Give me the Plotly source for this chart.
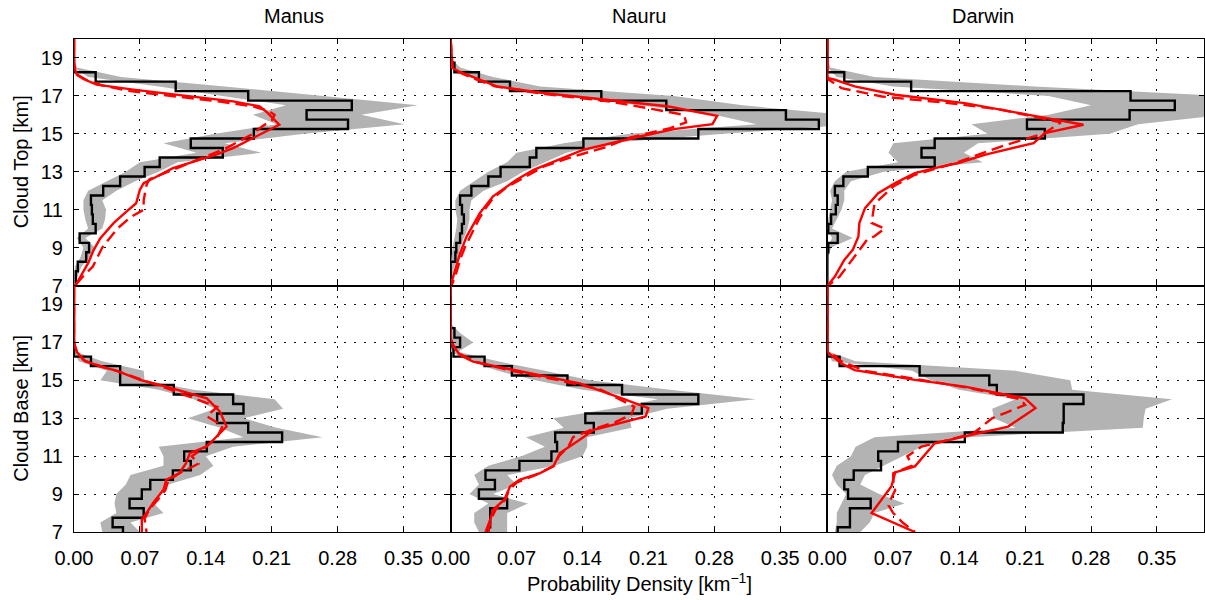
import plotly.graph_objects as go
from plotly.subplots import make_subplots

# ---------------- data ----------------
SITES = ["Manus", "Nauru", "Darwin"]
ROW_LABELS = ["Cloud Top [km]", "Cloud Base [km]"]
X_LABEL = "Probability Density [km<sup>\u22121</sup>]"
X_TICKS = [0.0, 0.07, 0.14, 0.21, 0.28, 0.35]
Y_TICKS = [7, 9, 11, 13, 15, 17, 19]

# bin centres (km), 0.5 km bins
HEIGHTS = [7.0, 7.5, 8.0, 8.5, 9.0, 9.5, 10.0, 10.5, 11.0, 11.5, 12.0, 12.5, 13.0,
           13.5, 14.0, 14.5, 15.0, 15.5, 16.0, 16.5, 17.0, 17.5, 18.0, 18.5, 19.0, 19.5, 20.0]

# ---- observed histograms (black) ----
manus_top_hist = [0.002, 0.002, 0.004, 0.013, 0.016, 0.006, 0.023, 0.020, 0.019, 0.018, 0.031, 0.049, 0.075,
                  0.091, 0.158, 0.124, 0.191, 0.291, 0.247, 0.295, 0.185, 0.108, 0.023, 0.0, 0.0, 0.0, 0.0]
nauru_top_hist = [0.0, 0.0, 0.0, 0.005, 0.006, 0.010, 0.012, 0.014, 0.012, 0.010, 0.022, 0.040, 0.053,
                  0.084, 0.091, 0.141, 0.263, 0.391, 0.356, 0.229, 0.160, 0.063, 0.030, 0.004, 0.0, 0.0, 0.0]
darwin_top_hist = [0.0, 0.0, 0.0, 0.0, 0.001, 0.011, 0.001, 0.004, 0.009, 0.011, 0.008, 0.017, 0.043,
                   0.114, 0.100, 0.114, 0.231, 0.212, 0.321, 0.369, 0.322, 0.089, 0.018, 0.0, 0.0, 0.0, 0.0]
manus_base_hist = [0.052, 0.041, 0.074, 0.059, 0.072, 0.081, 0.105, 0.124, 0.117, 0.141, 0.221, 0.185, 0.152,
                   0.180, 0.169, 0.106, 0.049, 0.049, 0.018, 0.0, 0.0, 0.0, 0.0, 0.0, 0.0, 0.0, 0.0]
nauru_base_hist = [0.040, 0.042, 0.042, 0.060, 0.030, 0.047, 0.037, 0.073, 0.107, 0.113, 0.111, 0.152, 0.143,
                   0.203, 0.263, 0.182, 0.124, 0.065, 0.036, 0.003, 0.010, 0.004, 0.0, 0.0, 0.0, 0.0, 0.0]
darwin_base_hist = [0.011, 0.024, 0.024, 0.046, 0.022, 0.018, 0.028, 0.057, 0.054, 0.075, 0.146, 0.250, 0.251,
                    0.251, 0.272, 0.180, 0.172, 0.098, 0.013, 0.0, 0.0, 0.0, 0.0, 0.0, 0.0, 0.0, 0.0]

# ---- uncertainty band (grey): lower / upper ----
manus_top_lo = [0.0, 0.0, 0.001, 0.007, 0.010, 0.003, 0.015, 0.012, 0.010, 0.010, 0.015, 0.035, 0.055,
                0.070, 0.130, 0.095, 0.150, 0.215, 0.190, 0.225, 0.160, 0.090, 0.015, 0.0, 0.0, 0.0, 0.0]
manus_top_hi = [0.0, 0.004, 0.008, 0.017, 0.022, 0.012, 0.030, 0.033, 0.034, 0.030, 0.045, 0.065, 0.090,
                0.110, 0.199, 0.160, 0.245, 0.351, 0.305, 0.365, 0.260, 0.160, 0.050, 0.003, 0.0, 0.0, 0.0]
nauru_top_lo = [0.0, 0.0, 0.0, 0.001, 0.002, 0.004, 0.006, 0.007, 0.005, 0.005, 0.010, 0.025, 0.040,
                0.060, 0.070, 0.120, 0.190, 0.325, 0.280, 0.200, 0.120, 0.050, 0.020, 0.0, 0.0, 0.0, 0.0]
nauru_top_hi = [0.0, 0.002, 0.004, 0.008, 0.010, 0.014, 0.018, 0.020, 0.020, 0.022, 0.035, 0.060, 0.077,
                0.100, 0.123, 0.165, 0.290, 0.430, 0.420, 0.310, 0.237, 0.095, 0.045, 0.010, 0.0, 0.0, 0.0]
darwin_top_lo = [0.0, 0.0, 0.0, 0.0, 0.0, 0.005, 0.0, 0.001, 0.003, 0.005, 0.003, 0.008, 0.020,
                 0.075, 0.065, 0.070, 0.170, 0.153, 0.235, 0.280, 0.235, 0.070, 0.010, 0.0, 0.0, 0.0, 0.0]
darwin_top_hi = [0.0, 0.001, 0.001, 0.001, 0.004, 0.027, 0.005, 0.010, 0.015, 0.018, 0.018, 0.025, 0.060,
                 0.165, 0.145, 0.160, 0.300, 0.330, 0.420, 0.430, 0.420, 0.220, 0.050, 0.003, 0.0, 0.0, 0.0]
manus_base_lo = [0.030, 0.028, 0.045, 0.043, 0.045, 0.055, 0.060, 0.095, 0.095, 0.090, 0.180, 0.155, 0.121,
                 0.150, 0.127, 0.090, 0.028, 0.035, 0.005, 0.0, 0.0, 0.0, 0.0, 0.0, 0.0, 0.0, 0.0]
manus_base_hi = [0.070, 0.060, 0.095, 0.085, 0.090, 0.100, 0.134, 0.148, 0.140, 0.169, 0.264, 0.215, 0.180,
                 0.222, 0.213, 0.127, 0.075, 0.074, 0.030, 0.002, 0.0, 0.0, 0.0, 0.0, 0.0, 0.0, 0.0]
nauru_base_lo = [0.030, 0.025, 0.025, 0.040, 0.020, 0.030, 0.025, 0.040, 0.075, 0.100, 0.080, 0.120, 0.109,
                 0.170, 0.220, 0.140, 0.090, 0.050, 0.020, 0.0, 0.002, 0.0, 0.0, 0.0, 0.0, 0.0, 0.0]
nauru_base_hi = [0.060, 0.060, 0.060, 0.082, 0.045, 0.070, 0.060, 0.110, 0.140, 0.145, 0.145, 0.192, 0.190,
                 0.230, 0.324, 0.233, 0.148, 0.100, 0.050, 0.008, 0.024, 0.010, 0.0, 0.0, 0.0, 0.0, 0.0]
darwin_base_lo = [0.008, 0.010, 0.010, 0.015, 0.020, 0.010, 0.005, 0.010, 0.025, 0.030, 0.050, 0.200, 0.177,
                  0.175, 0.200, 0.140, 0.110, 0.090, 0.005, 0.0, 0.0, 0.0, 0.0, 0.0, 0.0, 0.0, 0.0]
darwin_base_hi = [0.035, 0.045, 0.050, 0.082, 0.055, 0.035, 0.040, 0.060, 0.080, 0.100, 0.150, 0.335, 0.336,
                  0.338, 0.366, 0.260, 0.258, 0.200, 0.030, 0.002, 0.0, 0.0, 0.0, 0.0, 0.0, 0.0, 0.0]

# ---- model curves (red solid / red dashed): heights and densities ----
manus_top_solid_y = [20.0, 18.7, 18.42, 18.12, 17.89, 17.59, 17.33, 17.07, 16.71, 16.45, 16.18, 15.48, 15.04,
                     14.60, 14.25, 13.90, 13.54, 13.19, 12.75, 12.40, 12.05, 11.34, 10.91, 10.29, 9.50, 8.88,
                     8.18, 7.56, 7.04, 7.0]
manus_top_solid_x = [0.0, 0.0, 0.001, 0.003, 0.010, 0.024, 0.063, 0.109, 0.169, 0.197, 0.204, 0.218, 0.201,
                     0.183, 0.169, 0.151, 0.127, 0.105, 0.088, 0.074, 0.070, 0.066, 0.056, 0.042, 0.028, 0.021,
                     0.015, 0.008, 0.002, 0.0]
manus_top_dash_y = [20.0, 18.7, 18.4, 18.1, 17.85, 17.55, 17.25, 16.95, 16.7, 16.45, 16.2, 16.0, 15.7, 15.4,
                    15.0, 14.6, 14.2, 13.8, 13.4, 13.0, 12.6, 12.3, 12.0, 11.5, 11.0, 10.6, 10.0, 9.5, 9.0,
                    8.5, 8.0, 7.5, 7.0]
manus_top_dash_x = [0.0, 0.0, 0.001, 0.004, 0.013, 0.030, 0.060, 0.110, 0.155, 0.190, 0.207, 0.213, 0.210,
                    0.200, 0.190, 0.175, 0.160, 0.140, 0.120, 0.098, 0.080, 0.077, 0.076, 0.074, 0.074, 0.060,
                    0.046, 0.038, 0.030, 0.025, 0.020, 0.010, 0.001]

nauru_top_solid_y = [20.0, 18.91, 18.47, 18.26, 17.94, 17.5, 17.15, 16.8, 16.45, 15.95, 15.51, 15.25, 14.86,
                     14.16, 13.1, 12.58, 11.70, 10.82, 9.59, 8.71, 7.83, 7.04, 7.0]
nauru_top_solid_x = [0.0, 0.001, 0.002, 0.010, 0.027, 0.049, 0.098, 0.166, 0.230, 0.283, 0.278, 0.237, 0.201,
                     0.141, 0.088, 0.070, 0.045, 0.031, 0.017, 0.010, 0.005, 0.001, 0.0]
nauru_top_dash_y = [20.0, 18.9, 18.4, 18.0, 17.5, 17.1, 16.7, 16.3, 16.0, 15.6, 15.3, 14.8, 14.3, 13.8, 13.3,
                    12.7, 12.2, 11.6, 11.0, 10.5, 10.0, 9.5, 9.0, 8.5, 8.0, 7.5, 7.0]
nauru_top_dash_x = [0.0, 0.001, 0.002, 0.020, 0.047, 0.100, 0.170, 0.215, 0.248, 0.250, 0.233, 0.190, 0.165,
                    0.130, 0.100, 0.078, 0.060, 0.045, 0.036, 0.030, 0.025, 0.020, 0.015, 0.011, 0.008, 0.005,
                    0.001]

darwin_top_solid_y = [20.0, 17.95, 17.85, 17.5, 17.06, 16.62, 16.0, 15.48, 15.04, 14.51, 13.9, 13.46, 13.19,
                      12.93, 12.4, 11.87, 11.08, 10.29, 9.59, 8.88, 8.35, 7.47, 7.04, 7.0]
darwin_top_solid_x = [0.0, 0.0, 0.008, 0.029, 0.072, 0.146, 0.214, 0.272, 0.231, 0.219, 0.168, 0.139, 0.114,
                      0.093, 0.072, 0.054, 0.040, 0.034, 0.033, 0.027, 0.018, 0.008, 0.001, 0.0]
darwin_top_dash_y = [20.0, 17.9, 17.41, 16.97, 16.62, 16.27, 15.6, 15.04, 14.34, 13.46, 12.84, 12.22, 11.3,
                     10.3, 10.0, 9.6, 9.4, 8.35, 7.47, 7.04, 7.0]
darwin_top_dash_x = [0.0, 0.0, 0.015, 0.058, 0.129, 0.185, 0.248, 0.231, 0.185, 0.136, 0.093, 0.070, 0.050,
                     0.047, 0.061, 0.050, 0.042, 0.026, 0.013, 0.002, 0.0]

manus_base_solid_y = [20.0, 16.95, 16.5, 16.07, 15.72, 15.51, 15.02, 14.67, 14.05, 13.35, 12.56, 11.86, 11.51,
                      11.16, 10.63, 10.11, 9.75, 9.23, 8.53, 8.0, 7.65, 7.0]
manus_base_solid_x = [0.0, 0.0, 0.003, 0.010, 0.028, 0.045, 0.070, 0.098, 0.141, 0.155, 0.162, 0.148, 0.141,
                      0.123, 0.119, 0.112, 0.098, 0.095, 0.084, 0.077, 0.072, 0.072]
manus_base_dash_y = [20.0, 17.0, 16.5, 16.0, 15.5, 15.0, 14.5, 14.1, 13.6, 13.1, 12.6, 12.0, 11.5, 11.0, 10.6,
                     10.1, 9.7, 9.2, 8.7, 8.2, 7.7, 7.0]
manus_base_dash_x = [0.0, 0.0, 0.003, 0.012, 0.045, 0.075, 0.103, 0.125, 0.152, 0.141, 0.158, 0.152, 0.140,
                     0.125, 0.132, 0.112, 0.100, 0.097, 0.089, 0.080, 0.075, 0.077]

nauru_base_solid_y = [20.0, 17.2, 16.86, 16.33, 15.98, 15.63, 15.28, 14.84, 14.05, 13.53, 13.09, 12.74, 12.39,
                      11.86, 11.16, 10.46, 10.11, 9.75, 9.4, 8.7, 8.18, 7.65, 7.12, 7.0]
nauru_base_solid_x = [0.0, 0.0, 0.002, 0.010, 0.024, 0.059, 0.095, 0.137, 0.182, 0.210, 0.207, 0.180, 0.152,
                      0.137, 0.116, 0.109, 0.095, 0.073, 0.063, 0.057, 0.045, 0.042, 0.038, 0.037]
nauru_base_dash_y = [20.0, 17.2, 16.5, 16.0, 15.5, 15.0, 14.5, 14.0, 13.6, 13.2, 12.8, 12.4, 12.0, 11.5, 11.0,
                     10.5, 10.0, 9.6, 9.2, 8.7, 8.2, 7.7, 7.0]
nauru_base_dash_x = [0.0, 0.0, 0.006, 0.025, 0.065, 0.115, 0.160, 0.180, 0.195, 0.192, 0.175, 0.150, 0.130,
                     0.125, 0.115, 0.110, 0.090, 0.070, 0.062, 0.058, 0.048, 0.043, 0.040]

darwin_base_solid_y = [20.0, 16.5, 16.33, 15.89, 15.54, 15.02, 14.67, 14.05, 13.53, 13.18, 12.56, 12.04, 11.68,
                       10.46, 10.14, 9.75, 9.4, 8.0, 7.0]
darwin_base_solid_x = [0.0, 0.0, 0.004, 0.015, 0.029, 0.093, 0.146, 0.210, 0.221, 0.210, 0.192, 0.146, 0.114,
                       0.093, 0.072, 0.070, 0.068, 0.047, 0.093]
darwin_base_dash_y = [20.0, 16.6, 16.0, 15.5, 15.1, 14.6, 14.0, 13.7, 13.3, 13.0, 12.6, 12.2, 11.5, 11.0, 10.5,
                      10.1, 9.7, 9.2, 8.8, 8.4, 8.0, 7.5, 7.0]
darwin_base_dash_x = [0.0, 0.0, 0.015, 0.040, 0.090, 0.150, 0.205, 0.210, 0.190, 0.175, 0.165, 0.155, 0.100,
                      0.085, 0.090, 0.070, 0.070, 0.072, 0.068, 0.065, 0.070, 0.080, 0.093]

PANELS = [
    # (row, col, hist, lo, hi, solid_y, solid_x, dash_y, dash_x)
    (1, 1, manus_top_hist, manus_top_lo, manus_top_hi, manus_top_solid_y, manus_top_solid_x, manus_top_dash_y, manus_top_dash_x),
    (1, 2, nauru_top_hist, nauru_top_lo, nauru_top_hi, nauru_top_solid_y, nauru_top_solid_x, nauru_top_dash_y, nauru_top_dash_x),
    (1, 3, darwin_top_hist, darwin_top_lo, darwin_top_hi, darwin_top_solid_y, darwin_top_solid_x, darwin_top_dash_y, darwin_top_dash_x),
    (2, 1, manus_base_hist, manus_base_lo, manus_base_hi, manus_base_solid_y, manus_base_solid_x, manus_base_dash_y, manus_base_dash_x),
    (2, 2, nauru_base_hist, nauru_base_lo, nauru_base_hi, nauru_base_solid_y, nauru_base_solid_x, nauru_base_dash_y, nauru_base_dash_x),
    (2, 3, darwin_base_hist, darwin_base_lo, darwin_base_hi, darwin_base_solid_y, darwin_base_solid_x, darwin_base_dash_y, darwin_base_dash_x),
]

# ---------------- figure ----------------
FONT = "Liberation Sans, Arial, Helvetica, sans-serif"
FS = 20
W, H = 1205, 600
ML, MR, MT, MB = 74, 1, 39, 68

fig = make_subplots(rows=2, cols=3, horizontal_spacing=0, vertical_spacing=0)

half = (HEIGHTS[1] - HEIGHTS[0]) / 2.0
for (r, c, hist, lo, hi, sy, sx, dy, dx) in PANELS:
    # grey band
    fig.add_trace(go.Scatter(x=list(lo) + list(hi)[::-1], y=HEIGHTS + HEIGHTS[::-1],
                             fill="toself", fillcolor="#b3b3b3", mode="lines",
                             line=dict(width=0, color="#b3b3b3"), hoverinfo="skip",
                             showlegend=False), row=r, col=c)
    # black step histogram
    hy = [HEIGHTS[0] - half] + HEIGHTS + [HEIGHTS[-1] + half]
    hx = [hist[0]] + list(hist) + [hist[-1]]
    fig.add_trace(go.Scatter(x=hx, y=hy, mode="lines", line=dict(color="black", width=2.4, shape="vhv"),
                             showlegend=False), row=r, col=c)
    # red solid
    fig.add_trace(go.Scatter(x=sx, y=sy, mode="lines", line=dict(color="#ff0000", width=2.4),
                             showlegend=False), row=r, col=c)
    # red dashed
    fig.add_trace(go.Scatter(x=dx, y=dy, mode="lines",
                             line=dict(color="#ff0000", width=2.4, dash="12px,6px"),
                             showlegend=False), row=r, col=c)

grid_kw = dict(showgrid=True, gridcolor="#111111", gridwidth=1, griddash="2px,8px",
               showline=True, linecolor="black", linewidth=1.2, mirror="ticks",
               ticks="inside", ticklen=5, tickwidth=1.2, tickcolor="black", zeroline=False,
               tickfont=dict(family=FONT, size=FS, color="black"))

for r in (1, 2):
    for c in (1, 2, 3):
        fig.update_xaxes(range=[0, 0.4], tickvals=X_TICKS, ticktext=[f"{v:.2f}" for v in X_TICKS],
                         showticklabels=(r == 2), ticklabelstandoff=8, row=r, col=c, **grid_kw)
        fig.update_yaxes(range=[7, 20], tickvals=Y_TICKS, ticktext=[str(v) for v in Y_TICKS],
                         showticklabels=(c == 1), ticklabelstandoff=6, row=r, col=c, **grid_kw)

annotations = []
for i, name in enumerate(SITES):
    annotations.append(dict(text=name, x=(i + 0.5) / 3.0, xref="paper", y=1, yref="paper",
                            yanchor="middle", yshift=23, showarrow=False,
                            font=dict(family=FONT, size=FS, color="black")))
for i, lab in enumerate(ROW_LABELS):
    annotations.append(dict(text=lab, x=0, xref="paper", xshift=-53, xanchor="center",
                            y=0.75 - 0.5 * i, yref="paper", yanchor="middle", textangle=-90,
                            showarrow=False, font=dict(family=FONT, size=FS, color="black")))
annotations.append(dict(text=X_LABEL, x=0.5, xref="paper", y=0, yref="paper", yanchor="middle",
                        yshift=-50, showarrow=False, font=dict(family=FONT, size=FS, color="black")))

fig.update_layout(width=W, height=H, margin=dict(l=ML, r=MR, t=MT, b=MB),
                  paper_bgcolor="white", plot_bgcolor="white", showlegend=False,
                  annotations=annotations, font=dict(family=FONT, size=FS, color="black"))

fig.write_html("out.html")
